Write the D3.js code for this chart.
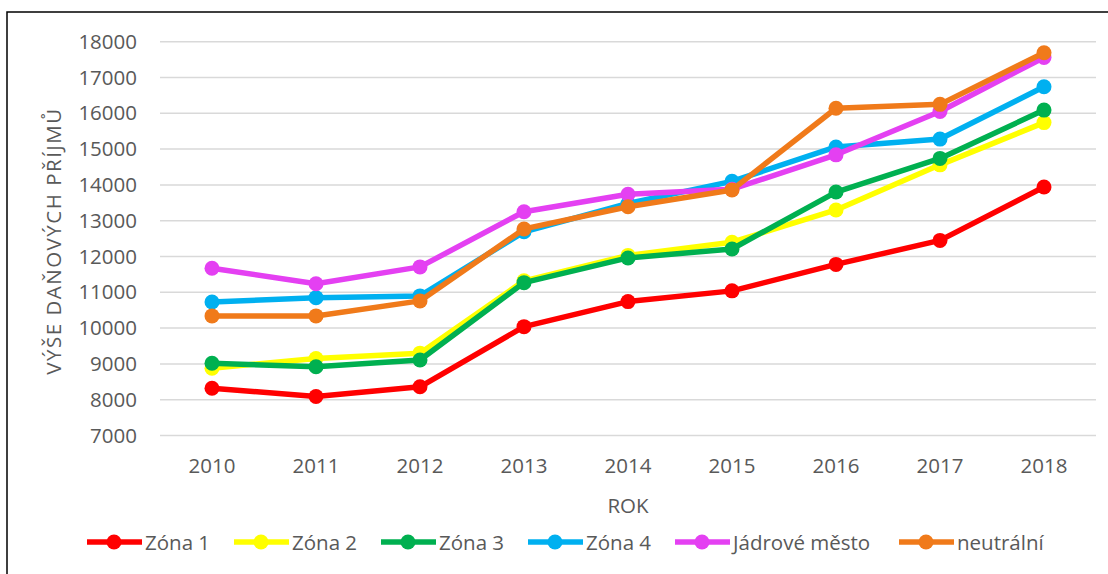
<!DOCTYPE html>
<html><head><meta charset="utf-8">
<script src="https://cdn.jsdelivr.net/npm/d3@7"></script>
<style>body{margin:0;background:#fff;} svg{display:block;}</style>
</head><body>
<svg id="chart" width="1108" height="574"></svg>
<script>
const years = ["2010","2011","2012","2013","2014","2015","2016","2017","2018"];
const seriesNames = ["Zóna 1","Zóna 2","Zóna 3","Zóna 4","Jádrové město","neutrální"];
const zona1 = [8320, 8090, 8360, 10040, 10740, 11040, 11780, 12450, 13940];
const zona2 = [8880, 9150, 9300, 11320, 12030, 12400, 13300, 14560, 15740];
const zona3 = [9020, 8920, 9110, 11270, 11960, 12210, 13800, 14740, 16090];
const zona4 = [10730, 10850, 10900, 12690, 13480, 14100, 15060, 15280, 16740];
const jadrove = [11670, 11240, 11710, 13250, 13740, 13880, 14840, 16050, 17560];
const neutralni = [10340, 10340, 10760, 12770, 13390, 13860, 16140, 16250, 17690];
const colors = ["#FF0000","#FFFF00","#00B050","#00B0F0","#E440F2","#F07A1A"];
const yTicks = [7000,8000,9000,10000,11000,12000,13000,14000,15000,16000,17000,18000];
const allSeries = [zona1, zona2, zona3, zona4, jadrove, neutralni];

const svg = d3.select("#chart");
const font = "'Open Sans', 'Noto Sans', sans-serif";
const textCol = "#595959";
const fs = 20.5;

svg.append("rect").attr("x",7).attr("y",12).attr("width",1120).attr("height",600)
  .attr("fill","none").attr("stroke","#000").attr("stroke-width",1.5);

const x = d3.scaleBand().domain(years).range([160,1096]);
const y = d3.scaleLinear().domain([7000,18000]).range([435.5,41.7]);

// gridlines
svg.append("g").selectAll("line").data(yTicks).join("line")
  .attr("x1",160).attr("x2",1096)
  .attr("y1",d=>y(d)).attr("y2",d=>y(d))
  .attr("stroke","#d9d9d9").attr("stroke-width",1.5);

// y axis
const yAxis = svg.append("g").attr("transform","translate(160,0)")
  .call(d3.axisLeft(y).tickValues(yTicks).tickSize(0).tickPadding(23).tickFormat(d3.format("d")));
yAxis.select(".domain").remove();
yAxis.selectAll("text").attr("font-family",font).attr("font-size",fs).attr("fill",textCol);

// x axis
const xAxis = svg.append("g").attr("transform","translate(0,435.5)")
  .call(d3.axisBottom(x).tickSize(0).tickPadding(23));
xAxis.select(".domain").remove();
xAxis.selectAll("text").attr("font-family",font).attr("font-size",fs).attr("fill",textCol);

// titles
svg.append("text").attr("transform","translate(61,241) rotate(-90)")
  .attr("text-anchor","middle").attr("font-family",font).attr("font-size",fs)
  .attr("letter-spacing",1.5).attr("fill",textCol).text("VÝŠE DAŇOVÝCH PŘÍJMŮ");
svg.append("text").attr("x",628).attr("y",513).attr("text-anchor","middle")
  .attr("font-family",font).attr("font-size",fs).attr("fill",textCol).text("ROK");

const line = d3.line().x((d,i)=>x(years[i])+x.bandwidth()/2).y(d=>y(d));
allSeries.forEach((s,k)=>{
  const g = svg.append("g");
  g.append("path").datum(s).attr("d",line).attr("fill","none")
    .attr("stroke",colors[k]).attr("stroke-width",5.5).attr("stroke-linejoin","round");
  g.selectAll("circle").data(s).join("circle")
    .attr("cx",(d,i)=>x(years[i])+x.bandwidth()/2).attr("cy",d=>y(d)).attr("r",7.5)
    .attr("fill",colors[k]);
});

// legend
const legX = [87, 234, 381, 528, 675, 899];
const leg = svg.append("g");
seriesNames.forEach((n,k)=>{
  const g = leg.append("g").attr("transform",`translate(${legX[k]},542)`);
  g.append("line").attr("x1",0).attr("x2",55).attr("y1",0).attr("y2",0)
    .attr("stroke",colors[k]).attr("stroke-width",5.5);
  g.append("circle").attr("cx",27).attr("cy",0).attr("r",7.5).attr("fill",colors[k]);
  g.append("text").attr("x",58).attr("y",7.5).attr("font-family",font).attr("font-size",fs)
    .attr("fill",textCol).text(n);
});
</script>
</body></html>
